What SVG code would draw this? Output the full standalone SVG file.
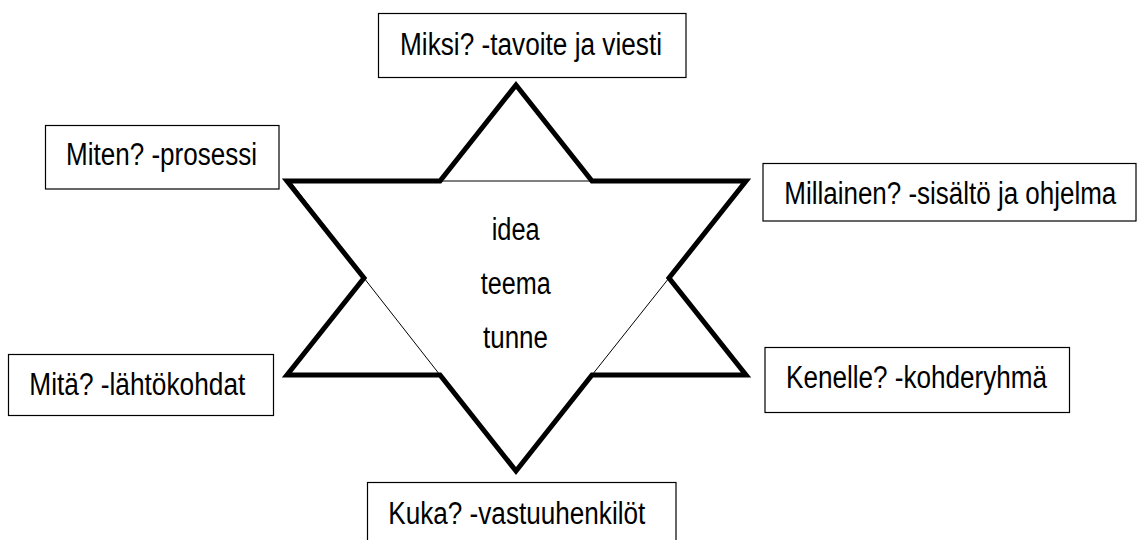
<svg xmlns="http://www.w3.org/2000/svg" width="1138" height="540" viewBox="0 0 1138 540">
<style>
.box{fill:#fff;stroke:#000;stroke-width:1.2}
.t{font-family:"Liberation Sans",Arial,sans-serif;font-size:31px;fill:#000}
.thin{stroke:#000;stroke-width:1;fill:none}
</style>
<rect width="1138" height="540" fill="#fff"/>
<g id="star">
<path d="M516,85 L592,181 L746,181 L669,278 L746,375 L592,375 L516,471 L440,375 L287,375 L364,278 L287,181 L440,181 Z" fill="#fff" stroke="#000" stroke-width="5" stroke-linejoin="miter"/>
</g>
<g id="connectors">
<line class="thin" x1="440" y1="181" x2="592" y2="181"/>
<line class="thin" x1="364" y1="278" x2="440" y2="375"/>
<line class="thin" x1="669" y1="278" x2="592" y2="375"/>
<line class="thin" x1="291.5" y1="183" x2="364" y2="278"/>
</g>
<g id="center">
<text class="t" x="491.7" y="240" textLength="48" lengthAdjust="spacingAndGlyphs">idea</text>
<text class="t" x="480.7" y="294" textLength="70" lengthAdjust="spacingAndGlyphs">teema</text>
<text class="t" x="483" y="348" textLength="65" lengthAdjust="spacingAndGlyphs">tunne</text>
</g>
<g id="miksi">
<rect class="box" x="378.5" y="13.5" width="307.5" height="64"/>
<text class="t" x="400" y="54.5" textLength="262" lengthAdjust="spacingAndGlyphs">Miksi? -tavoite ja viesti</text>
</g>
<g id="miten">
<rect class="box" x="45.5" y="125.5" width="233.5" height="63.5"/>
<text class="t" x="66" y="165" textLength="191" lengthAdjust="spacingAndGlyphs">Miten? -prosessi</text>
</g>
<g id="millainen">
<rect class="box" x="763" y="163.5" width="373" height="57.5"/>
<text class="t" x="784.3" y="204.3" textLength="332" lengthAdjust="spacingAndGlyphs">Millainen? -sisältö ja ohjelma</text>
</g>
<g id="mita">
<rect class="box" x="8.5" y="354.5" width="265" height="61"/>
<text class="t" x="29.3" y="395" textLength="216" lengthAdjust="spacingAndGlyphs">Mitä? -lähtökohdat</text>
</g>
<g id="kenelle">
<rect class="box" x="765" y="347.5" width="304.5" height="65"/>
<text class="t" x="786" y="388.3" textLength="261" lengthAdjust="spacingAndGlyphs">Kenelle? -kohderyhmä</text>
</g>
<g id="kuka">
<rect class="box" x="367.5" y="482.5" width="308.5" height="70"/>
<text class="t" x="388.3" y="524" textLength="257" lengthAdjust="spacingAndGlyphs">Kuka? -vastuuhenkilöt</text>
</g>
</svg>
